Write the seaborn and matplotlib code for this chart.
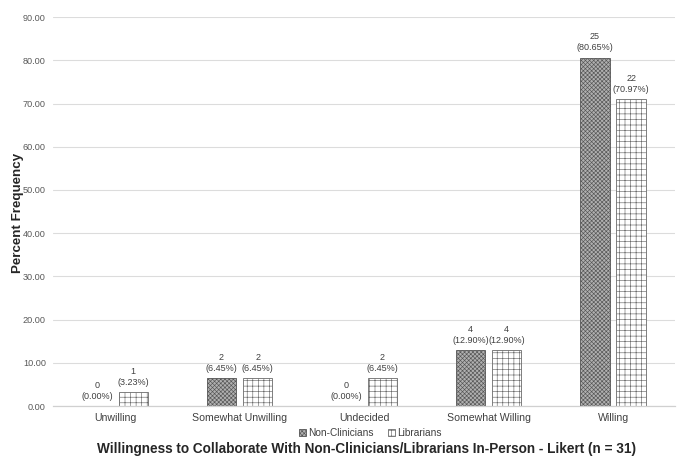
import matplotlib
matplotlib.use("Agg")
import matplotlib.pyplot as plt
import matplotlib.patches as mpatches
import seaborn as sns
import pandas as pd

categories = ["Unwilling", "Somewhat Unwilling", "Undecided", "Somewhat Willing", "Willing"]
groups = ["Non-Clinicians", "Librarians"]
nonclin_pct = [0.00, 6.45, 0.00, 12.90, 80.65]
nonclin_n = [0, 2, 0, 4, 25]
librarian_pct = [3.23, 6.45, 6.45, 12.90, 70.97]
librarian_n = [1, 2, 2, 4, 22]
y_ticks = [0, 10, 20, 30, 40, 50, 60, 70, 80, 90]

df = pd.DataFrame({
    "Response": categories * 2,
    "Group": [groups[0]] * len(categories) + [groups[1]] * len(categories),
    "Percent": nonclin_pct + librarian_pct,
    "Count": nonclin_n + librarian_n,
})

sns.set_theme(style="white")
plt.rcParams["font.family"] = ["Liberation Sans", "DejaVu Sans"]
plt.rcParams["hatch.linewidth"] = 0.45

fig = plt.figure(figsize=(6.78, 4.62), dpi=100)
ax = fig.add_axes([0.078, 0.121, 0.918, 0.842])

sns.barplot(data=df, x="Response", y="Percent", hue="Group", order=categories,
            hue_order=groups, width=0.58, gap=0.19, ax=ax, legend=False,
            palette=["#9c9c9c", "#ffffff"])

styles = {
    "Non-Clinicians": dict(face="#b0b0b0", edge="#555555", hatch="xxxxxxxx"),
    "Librarians": dict(face="#ffffff", edge="#6a6a6a", hatch="+++"),
}
for cont, grp in zip(ax.containers, groups):
    st = styles[grp]
    for bar in cont:
        bar.set_facecolor(st["face"])
        bar.set_edgecolor(st["edge"])
        bar.set_hatch(st["hatch"])
        bar.set_linewidth(0.6)
    sub = df[df["Group"] == grp].set_index("Response").loc[categories]
    labels = [f"{c}\n({p:.2f}%)" for c, p in zip(sub["Count"], sub["Percent"])]
    ax.bar_label(cont, labels=labels, padding=4, fontsize=6.5, color="#404040",
                 linespacing=1.25)

ax.set_xlim(-0.5, len(categories) - 0.5)
ax.set_ylim(0, 90)
ax.set_yticks(y_ticks)
ax.set_yticklabels([f"{v:.2f}" for v in y_ticks], fontsize=6.6, color="#595959")
ax.tick_params(axis="x", labelsize=7.6, labelcolor="#404040", length=0, pad=5)
ax.tick_params(axis="y", length=0, pad=5)
ax.yaxis.grid(True, color="#dcdcdc", linewidth=0.8)
ax.set_axisbelow(True)
for side in ["top", "right", "left"]:
    ax.spines[side].set_visible(False)
ax.spines["bottom"].set_color("#d0d0d0")
ax.spines["bottom"].set_linewidth(0.9)

ax.set_xlabel("")
ax.set_ylabel("")
fig.text(0.027, 0.54, "Percent Frequency", rotation=90, ha="center", va="center",
         fontsize=9.6, fontweight="bold", color="#262626")

handles = [mpatches.Patch(facecolor=styles[g]["face"], edgecolor=styles[g]["edge"],
                          hatch=styles[g]["hatch"], linewidth=0.6, label=g) for g in groups]
fig.legend(handles=handles, loc="center", bbox_to_anchor=(0.546, 0.063), ncol=2,
           frameon=False, fontsize=7.3, handlelength=0.7, handleheight=0.7,
           handletextpad=0.2, columnspacing=1.4, labelcolor="#404040")

fig.text(0.541, 0.028,
         "Willingness to Collaborate With Non-Clinicians/Librarians In-Person - Likert (n = 31)",
         ha="center", va="center", fontsize=9.8, fontweight="bold", color="#262626")

fig.savefig("out.png", dpi=100)
